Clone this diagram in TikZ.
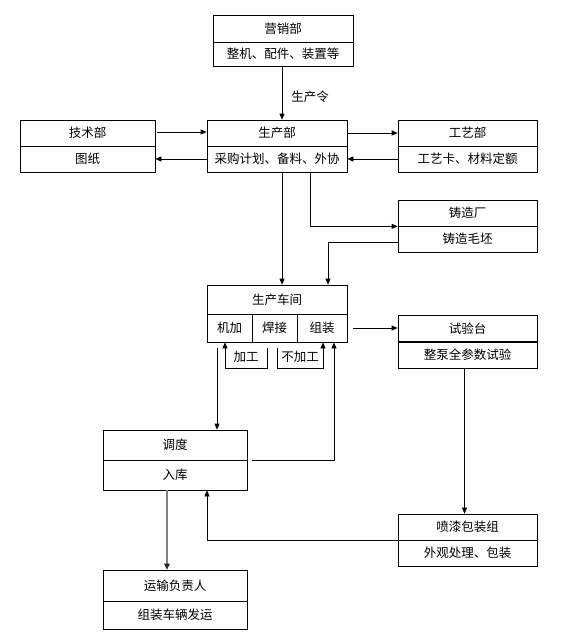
\documentclass[tikz,border=0pt]{standalone}
\usepackage{fontspec}
\newfontfamily\cjk{Noto Sans CJK SC}
\usetikzlibrary{arrows.meta,calc}
\tikzset{
  cell/.style={draw, line width=0.7pt, inner sep=0pt, font=\cjk\fontsize{12.5}{14}\selectfont, text=black},
  lbl/.style={inner sep=0pt, font=\cjk\fontsize{12.5}{14}\selectfont, text=black},
  arr/.style={-{Triangle[length=6pt,width=5pt]}, line width=0.7pt},
  garr/.style={line width=1.4pt, draw=black!50, -{Triangle[length=6pt,width=5.5pt,color=black!85]}}
}
\newcommand\dbox[8]{%
  \node[cell,minimum width={#3-#2},minimum height={#5-#4}] (#1) at ({(#2+#3)/2},{(#4+#5)/2}) {#7};
  \node[cell,minimum width={#3-#2},minimum height={#6-#5}] (#1b) at ({(#2+#3)/2},{(#5+#6)/2}) {#8};}
\begin{document}
\begin{tikzpicture}[x=1pt,y=-1pt]
\useasboundingbox[fill=white] (0,0) rectangle (564,643);
\dbox{yx}{213}{353}{15}{42}{66}{营销部}{整机、配件、装置等}
\dbox{js}{20}{155}{120}{146}{172}{技术部}{图纸}
\dbox{sc}{207}{347}{120}{146}{172}{生产部}{采购计划、备料、外协}
\dbox{gy}{398}{537}{120}{146}{172}{工艺部}{工艺卡、材料定额}
\dbox{zz}{398}{537}{200}{226}{252}{铸造厂}{铸造毛坯}
\node[cell,minimum width=140,minimum height=29] (cj) at (277,299.5) {生产车间};
\node[cell,minimum width=45,minimum height=28] (jijia) at (229.5,328) {机加};
\node[cell,minimum width=45,minimum height=28] (hanjie) at (274.5,328) {焊接};
\node[cell,minimum width=50,minimum height=28] (zhuang) at (322,328) {组装};
\dbox{syt}{398}{537}{315}{342}{368}{试验台}{整泵全参数试验}
\draw[line width=2pt] (syt.south west) -- (syt.south east);
\dbox{pq}{398}{537}{514}{540}{566}{喷漆包装组}{外观处理、包装}
\dbox{dd}{103}{247}{430}{460}{490}{调度}{入库}
\dbox{ys}{103}{247}{570}{601}{629}{运输负责人}{组装车辆发运}
% labels
\node[lbl] (scl) at (310,97) {生产令};
\node[lbl] (jg) at (246,357) {加工};
\node[lbl] (bjg) at (300,357) {不加工};
% helper coordinates
\coordinate (jd) at ($(jijia.south)+(-12.5,6)$);
\coordinate (ju) at ($(jijia.south)+(-4.5,0)$);
% connectors
\draw[arr] ($(yxb.south)+(-1,0)$) -- ($(sc.north)+(5,0)$);
\draw[arr] ($(js.east)+(2,-1)$) -- ($(sc.west)+(0,-1)$);
\draw[arr] (scb.west) -- (jsb.east);
\draw[arr] (sc.east) -- (gy.west);
\draw[arr] (gyb.west) -- (scb.east);
\draw[arr] ($(scb.south)+(33,0)$) |- (zz.south west);
\draw[arr] ($(zzb.west)+(0,3)$) -| ($(cj.north)+(51,0)$);
\draw[arr] ($(scb.south)+(5,0)$) -- ($(cj.north)+(5,0)$);
\draw[arr] ($(zhuang.east)+(6,0)$) -- (syt.west |- zhuang.east);
\draw[arr] ($(sytb.south)+(-3,0)$) -- ($(pq.north)+(-3,0)$);
\draw[arr] (pq.south west) -| ($(ddb.south)+(32,0)$);
\draw[arr] ($(dd.south east)+(5,0)$) -| ($(zhuang.south)+(12,0)$);
\draw[arr] (jd) -- (jd |- dd.north);
\draw[arr] ($(jijia.south)+(37.5,6)$) |- ($(jijia.south)+(-4.5,26)$) -- (ju);
\draw[arr] ($(zhuang.south)+(-45,6)$) |- ($(zhuang.south)+(1,26)$) -- ($(zhuang.south)+(1,0)$);
\draw[garr] ($(ddb.south)+(-8,0)$) -- ($(ys.north)+(-8,0)$);
\end{tikzpicture}
\end{document}
